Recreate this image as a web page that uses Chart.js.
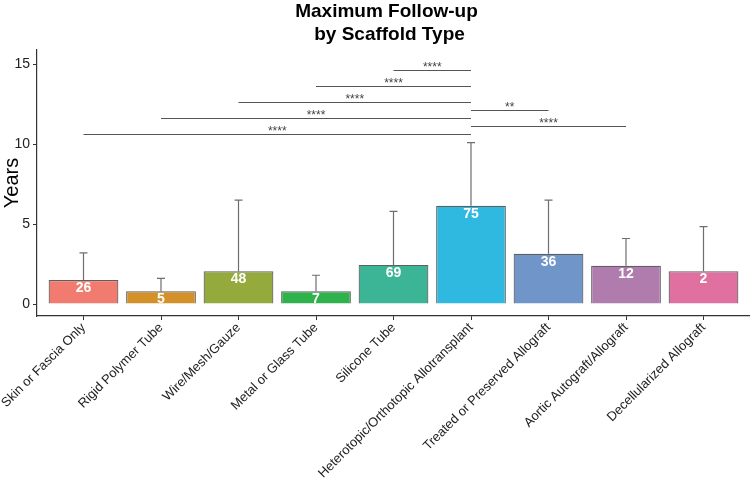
<!DOCTYPE html>
<html>
<head>
<meta charset="utf-8">
<script src="https://cdn.jsdelivr.net/npm/chart.js@4"></script>
<style>
  body { margin: 0; background: #fff; }
  #wrap { width: 750px; height: 480px; }
</style>
</head>
<body>
<div id="wrap"><canvas id="chart"></canvas></div>
<script>
const categories = [
  "Skin or Fascia Only", "Rigid Polymer Tube", "Wire/Mesh/Gauze",
  "Metal or Glass Tube", "Silicone Tube", "Heterotopic/Orthotopic Allotransplant",
  "Treated or Preserved Allograft", "Aortic Autograft/Allograft", "Decellularized Allograft"
];
const meanYears = [1.5, 0.8, 2.05, 0.8, 2.45, 6.15, 3.15, 2.4, 2.05];
const upperYears = [3.2, 1.6, 6.5, 1.8, 5.8, 10.1, 6.5, 4.1, 4.85];
const counts = [26, 5, 48, 7, 69, 75, 36, 12, 2];
const colors = ["#F07B6E", "#D4912A", "#94AA3C", "#2FB24B", "#3BB596",
                "#2FB8E0", "#7095C8", "#B07CAD", "#E070A0"];
const yTicks = [0, 5, 10, 15];

// significance brackets: other group vs reference group
const refGroup = 5;
const cmpGroup = [4, 3, 2, 1, 0, 6, 7];
const cmpHeight = [14.62, 13.62, 12.62, 11.62, 10.62, 12.12, 11.12];
const cmpLabel = ["****", "****", "****", "****", "****", "**", "****"];

const FONT = "'Liberation Sans', Arial, sans-serif";

const extras = {
  id: "extras",
  beforeDatasetsDraw(chart) {
    const ctx = chart.ctx, x = chart.scales.x, y = chart.scales.y;
    ctx.save();
    ctx.strokeStyle = "rgba(85,85,85,0.85)";
    ctx.lineWidth = 1.2;
    upperYears.forEach((u, i) => {
      const px = x.getPixelForValue(i + 1);
      const top = y.getPixelForValue(u), base = y.getPixelForValue(meanYears[i]);
      ctx.beginPath();
      ctx.moveTo(px, base); ctx.lineTo(px, top);
      ctx.moveTo(px - 4, top); ctx.lineTo(px + 4, top);
      ctx.stroke();
    });
    ctx.restore();
  },
  afterDatasetsDraw(chart) {
    const ctx = chart.ctx, x = chart.scales.x, y = chart.scales.y;
    ctx.save();
    ctx.fillStyle = "#fff";
    ctx.font = "bold 14px " + FONT;
    ctx.textAlign = "center";
    ctx.textBaseline = "middle";
    counts.forEach((c, i) => {
      ctx.fillText(String(c), x.getPixelForValue(i + 1), y.getPixelForValue(meanYears[i]) + 8);
    });
    ctx.strokeStyle = "#555";
    ctx.lineWidth = 1;
    ctx.fillStyle = "#444";
    ctx.font = "12px " + FONT;
    cmpGroup.forEach((g, k) => {
      const x1 = x.getPixelForValue(g + 1), x2 = x.getPixelForValue(refGroup + 1);
      const py = Math.round(y.getPixelForValue(cmpHeight[k])) + 0.5;
      ctx.beginPath();
      ctx.moveTo(x1, py); ctx.lineTo(x2, py);
      ctx.stroke();
      ctx.fillText(cmpLabel[k], (x1 + x2) / 2, py - 3);
    });
    // title
    const cx = (chart.chartArea.left + chart.chartArea.right) / 2 - 7;
    ctx.fillStyle = "#000";
    ctx.font = "bold 19px " + FONT;
    ctx.fillText("Maximum Follow-up", cx, 12);
    ctx.fillText("by Scaffold Type", cx + 3, 35);
    ctx.restore();
  }
};

new Chart(document.getElementById("chart"), {
  type: "bar",
  data: {
    datasets: [{
      data: categories.map((c, i) => ({ x: i + 1, y: meanYears[i] })),
      backgroundColor: colors,
      borderColor: "rgba(55,55,55,0.8)",
      borderWidth: 1.2,
      categoryPercentage: 1,
      barPercentage: 0.9
    }]
  },
  options: {
    responsive: true,
    maintainAspectRatio: false,
    animation: false,
    layout: { padding: { top: 50, right: 0, left: 0, bottom: 0 } },
    plugins: { legend: { display: false }, tooltip: { enabled: false }, title: { display: false } },
    scales: {
      x: {
        type: "linear",
        min: 0.4,
        max: 9.6,
        offset: false,
        afterBuildTicks: s => { s.ticks = categories.map((c, i) => ({ value: i + 1 })); },
        afterFit: s => { s.height = 164; s.paddingLeft = 0; s.paddingRight = 0; },
        grid: { offset: false, drawOnChartArea: false, drawTicks: true, tickLength: 4, color: "#333" },
        border: { display: true, color: "#333", width: 1.2 },
        ticks: {
          callback: v => categories[v - 1],
          minRotation: 45,
          maxRotation: 45,
          autoSkip: false,
          padding: 0,
          color: "#222",
          font: { family: FONT, size: 13 }
        }
      },
      y: {
        min: -0.75,
        max: 15.9,
        afterBuildTicks: s => { s.ticks = yTicks.map(v => ({ value: v })); },
        afterFit: s => { s.width = 37; },
        grid: { drawOnChartArea: false, drawTicks: true, tickLength: 4, color: "#333" },
        border: { display: true, color: "#333", width: 1.2 },
        ticks: { padding: 3, color: "#222", font: { family: FONT, size: 14 } },
        title: { display: true, text: "Years", color: "#000", font: { family: FONT, size: 20 }, padding: 0 }
      }
    }
  },
  plugins: [extras]
});
</script>
</body>
</html>
